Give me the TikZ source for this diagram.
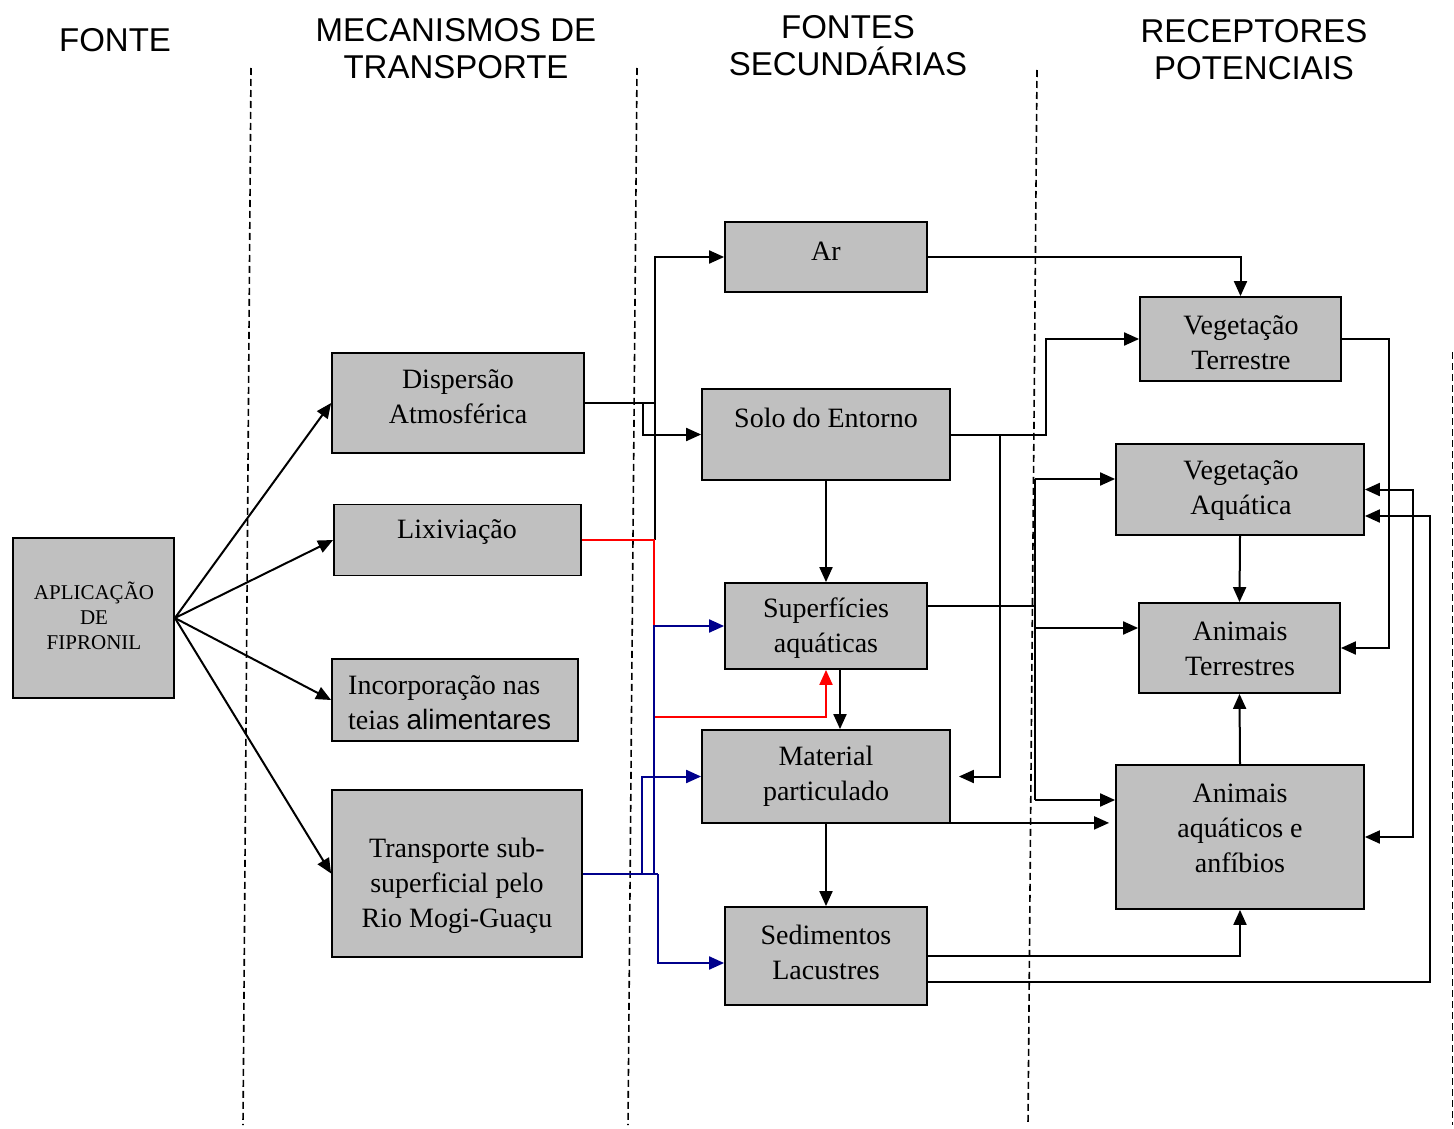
\documentclass[tikz,border=0pt]{standalone}
\usepackage{fontspec}
\setmainfont{Liberation Serif}
\setsansfont{Liberation Sans}
\usetikzlibrary{arrows.meta}
\definecolor{boxgray}{RGB}{192,192,192}
\definecolor{navyline}{RGB}{0,0,140}
\begin{document}
\begin{tikzpicture}[x=1pt,y=-1pt,
  box/.style={draw=black, fill=boxgray, line width=1.8pt, inner sep=0pt},
  lbl/.style={font=\fontsize{28}{35}\selectfont, align=center, inner sep=0pt},
  hdr/.style={font=\sffamily\fontsize{33}{37}\selectfont, align=center, inner sep=0pt},
  conn/.style={line width=2pt},
  arr/.style={conn, -{Triangle[length=15pt,width=13pt]}},
  redarr/.style={arr, draw=red, color=red},
  bluearr/.style={arr, draw=navyline, color=navyline},
  sepline/.style={line width=1.6pt, dash pattern=on 7pt off 4pt}]
\useasboundingbox (0,0) rectangle (1454,1129);

% headers
\node[hdr] (h1) at (115,40) {FONTE};
\node[hdr] (h2) at (456,48.5) {MECANISMOS DE\\TRANSPORTE};
\node[hdr] (h3) at (848,45.5) {FONTES\\SECUNDÁRIAS};
\node[hdr] (h4) at (1254,49.5) {RECEPTORES\\POTENCIAIS};

% separators
\draw[sepline] (251,68) -- (243,1125);
\draw[sepline] (637,68) -- (628,1125);
\draw[sepline] (1037,70) -- (1028,1125);
\draw[sepline] (1452.5,352) -- (1452.5,1125);

% boxes
\node[box, minimum width=161, minimum height=160] (app) at (93.5,618) {};
\node[box, minimum width=252, minimum height=100] (disp) at (458,403) {};
\node[box, minimum width=247, minimum height=71] (lix) at (457.5,540) {};
\node[box, minimum width=246, minimum height=82] (inc) at (455,700) {};
\node[box, minimum width=250, minimum height=167] (trans) at (457,873.5) {};
\node[box, minimum width=202, minimum height=70] (ar) at (826,257) {};
\node[box, minimum width=248, minimum height=91] (solo) at (826,434.5) {};
\node[box, minimum width=202, minimum height=86] (sup) at (826,626) {};
\node[box, minimum width=248, minimum height=93] (mat) at (826,776.5) {};
\node[box, minimum width=202, minimum height=98] (sed) at (826,956) {};
\node[box, minimum width=201, minimum height=84] (vt) at (1240.5,339) {};
\node[box, minimum width=248, minimum height=91] (va) at (1240,489.5) {};
\node[box, minimum width=201, minimum height=90] (at) at (1239.5,648) {};
\node[box, minimum width=248, minimum height=144] (aa) at (1240,837) {};

% texts
\node[lbl, font=\fontsize{21}{25}\selectfont] (app-t) at (94,616) {APLICAÇÃO\\DE\\FIPRONIL};
\node[lbl] (disp-t) at (458,397) {Dispersão\\Atmosférica};
\node[lbl] (lix-t) at (457,532) {Lixiviação};
\node[lbl, align=left, anchor=west] (inc-t) at (348,702.5) {Incorporação nas\\teias {\sffamily alimentares}};
\node[lbl] (trans-t) at (457,885.5) {Transporte sub-\\superficial pelo\\Rio Mogi-Guaçu};
\node[lbl] (ar-t) at (826,251) {Ar};
\node[lbl] (solo-t) at (826,418) {Solo do Entorno};
\node[lbl] (sup-t) at (826,628.5) {Superfícies\\aquáticas};
\node[lbl] (mat-t) at (826,776.5) {Material\\particulado};
\node[lbl] (sed-t) at (826,952.5) {Sedimentos\\Lacustres};
\node[lbl] (vt-t) at (1241,342.5) {Vegetação\\Terrestre};
\node[lbl] (va-t) at (1241,490.5) {Vegetação\\Aquática};
\node[lbl] (at-t) at (1240,648.5) {Animais\\Terrestres};
\node[lbl] (aa-t) at (1240,828) {Animais\\aquáticos e\\anfíbios};

% source fan
\draw[arr] (app.east) -- (disp.west);
\draw[arr] (app.east) -- (lix.west);
\draw[arr] (app.east) -- (inc.west);
\draw[arr] (app.east) -- (trans.west);

% junction coordinates
\coordinate (jd) at (655,403);
\coordinate (jdb) at (643,403);
\coordinate (jl) at (654,540);
\coordinate (jt) at (654,874);
\coordinate (jtb) at (642,874);
\coordinate (jts) at (658,874);

% dispersion
\draw[arr] (disp.east) -- (jd) |- (ar.west);
\draw[conn] (jd) -- (655,540);
\draw[arr] (jdb) |- (solo.west);

% leaching (red)
\draw[redarr] (lix.east) -- (jl) -- (654,717) -| (sup.south);

% subsurface transport (blue)
\draw[conn, draw=navyline] (trans.east |- jts) -- (jts);
\draw[bluearr] (jt) |- (sup.west);
\draw[bluearr] (jtb) |- (mat.west);
\draw[bluearr] (jts) |- ([yshift=-7pt]sed.west);

% secondary sources
\draw[arr] (solo.south) -- (sup.north);
\draw[arr] (solo.east) -- (1046,434.5) |- (vt.west);
\draw[arr] (1000,434.5) |- ([xshift=8pt]mat.east);
\draw[arr] ([xshift=14pt]sup.south) -- ([xshift=14pt]mat.north);
\draw[arr] (mat.south) -- (sed.north);
\draw[arr] ([yshift=1pt]mat.south east) -- ([xshift=-6pt,yshift=1pt]aa.west |- mat.south east);
\draw[arr] (ar.east) -| (vt.north);

% surfaces to receptors
\coordinate (js) at (1035,606);
\draw[conn] ([yshift=20pt]sup.east) -- (js);
\draw[conn] (1035,479) -- (1035,800);
\draw[arr] (1035,479) -- ([yshift=10.5pt]va.west);
\draw[arr] (1035,628) -- ([yshift=20pt]at.west);
\draw[arr] (1035,800) -- ([yshift=37pt]aa.west);

% receptors
\draw[arr] (vt.east) -- (1389,339) |- (at.east);
\draw[arr] (va.south) -- (at.north);
\draw[arr] (aa.north) -- (at.south);
\draw[conn, {Triangle[length=15pt,width=13pt]}-{Triangle[length=15pt,width=13pt]}] (va.east) -- (1413,489.5) |- (aa.east);
\draw[arr] ([yshift=-26pt]sed.east) -- (1430,982) |- ([yshift=-26.5pt]va.east);
\draw[arr] (sed.east) -| (aa.south);
\end{tikzpicture}
\end{document}
